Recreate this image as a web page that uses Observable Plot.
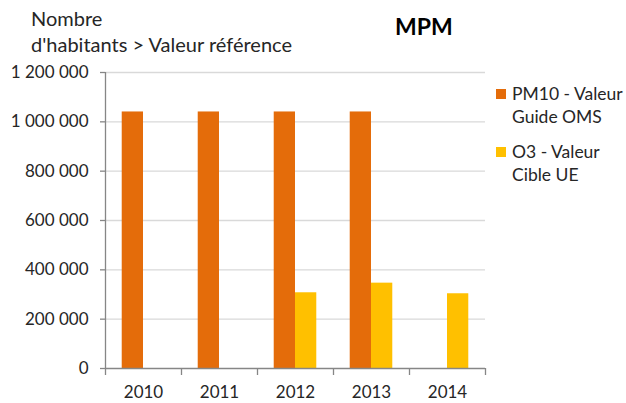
<!DOCTYPE html>
<html><head><meta charset="utf-8">
<script src="https://cdn.jsdelivr.net/npm/d3@7"></script>
<script src="https://cdn.jsdelivr.net/npm/@observablehq/plot@0.6"></script>
<style>
body{margin:0;background:#fff;}
#wrap{position:relative;width:626px;height:403px;font-family:Lato,"Open Sans",sans-serif;color:#262626;overflow:hidden}
#wrap svg{position:absolute;left:0;top:0}
.t{position:absolute;white-space:nowrap}
#ytitle{left:31px;top:5px;font-size:20px;line-height:26px}
#title{left:395px;top:12px;font-size:23px;font-weight:bold;color:#000}
.leg{position:absolute;left:496px;font-size:17.5px;line-height:23px;color:#262626}
.sw{position:absolute;left:0;width:10px;height:10px}
.lt{position:absolute;left:16px;top:0;white-space:nowrap}
</style></head><body>
<div id="wrap">
  <div id="ytitle" class="t">Nombre<br>d'habitants &gt; Valeur référence</div>
  <div id="title" class="t">MPM</div>
  <div id="legend"></div>
</div>
<script>
const years = [2010, 2011, 2012, 2013, 2014];
const seriesNames = ["PM10 - Valeur Guide OMS", "O3 - Valeur Cible UE"];
const legendLines = [["PM10 - Valeur", "Guide OMS"], ["O3 - Valeur", "Cible UE"]];
const pm10 = [1040000, 1040000, 1040000, 1040000, null];
const o3 = [null, null, 307000, 346000, 303000];
const yTicks = [0, 200000, 400000, 600000, 800000, 1000000, 1200000];
const colors = ["#E46C0A", "#FFC000"];

const rows = [];
years.forEach((yr, i) => {
  if (pm10[i] != null) rows.push({year: yr, series: seriesNames[0], k: 0, value: pm10[i]});
  if (o3[i] != null) rows.push({year: yr, series: seriesNames[1], k: 1, value: o3[i]});
});
const barW = 0.28;
const bounds = years.map(y => y - 0.5).concat([years[years.length - 1] + 0.5]);
const fr = d3.formatLocale({thousands: " ", grouping: [3], decimal: ",", currency: ["", "€"]}).format(",d");
const axisColor = "#868686";

const chart = Plot.plot({
  width: 626,
  height: 403,
  marginLeft: 105,
  marginRight: 141,
  marginTop: 72,
  marginBottom: 35,
  style: {fontFamily: "Lato, 'Open Sans', sans-serif", fontSize: "17px", color: "#262626", background: "transparent"},
  x: {type: "linear", domain: [bounds[0], bounds[bounds.length - 1]]},
  y: {domain: [0, 1200000]},
  color: {domain: seriesNames, range: colors},
  marks: [
    Plot.gridY(yTicks.filter(d => d > 0), {stroke: "#d9d9d9", strokeOpacity: 1, strokeWidth: 1.3}),
    Plot.rectY(rows, {
      x1: d => d.year - barW + d.k * barW,
      x2: d => d.year + d.k * barW,
      y1: 0,
      y2: "value",
      fill: "series"
    }),
    Plot.ruleY([0], {stroke: axisColor, strokeWidth: 1.3}),
    Plot.ruleX([bounds[0]], {stroke: axisColor, strokeWidth: 1.3}),
    Plot.axisY({ticks: yTicks, tickSize: 5, tickPadding: 12, tickFormat: fr, stroke: axisColor, strokeWidth: 1.3, label: null, fill: "#262626", fontSize: 17}),
    Plot.axisX({ticks: bounds, tickSize: 7, tickFormat: () => "", stroke: axisColor, strokeWidth: 1.3, label: null}),
    Plot.axisX({ticks: years, tickSize: 0, tickPadding: 17, tickFormat: d => String(d), label: null, fill: "#262626", fontSize: 17})
  ]
});
document.getElementById("wrap").prepend(chart);

const legTops = [89, 147];
const leg = document.getElementById("legend");
seriesNames.forEach((s, i) => {
  const g = document.createElement("div");
  g.className = "leg";
  g.style.top = legTops[i] + "px";
  const sw = document.createElement("div");
  sw.className = "sw";
  sw.style.background = colors[i];
  sw.style.top = "0px";
  g.appendChild(sw);
  const t = document.createElement("div");
  t.className = "lt";
  t.style.top = "-7px";
  t.innerHTML = legendLines[i].join("<br>");
  g.appendChild(t);
  leg.appendChild(g);
});
</script>
</body></html>
